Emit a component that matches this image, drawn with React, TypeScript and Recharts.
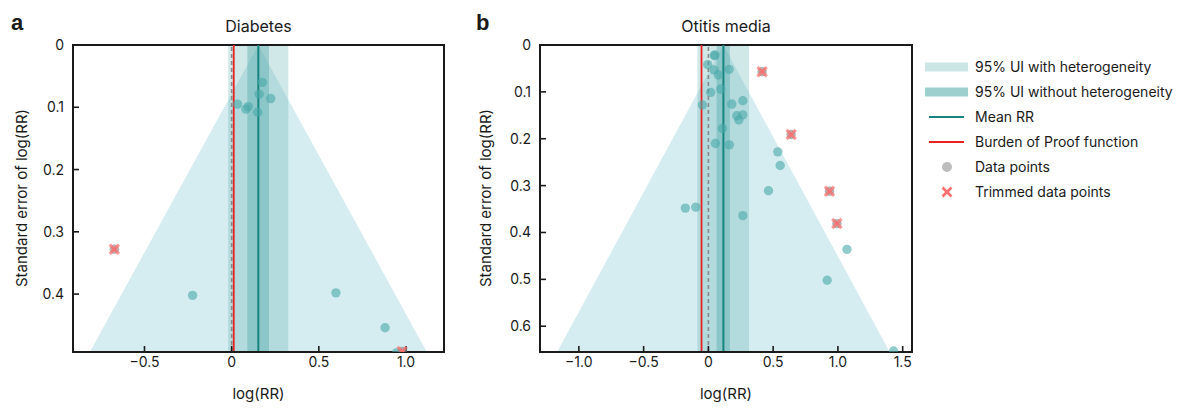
import { Area, ComposedChart, ReferenceArea, ReferenceLine, Scatter, XAxis, YAxis } from 'recharts'

const FONT = 'Inter, "Noto Sans", sans-serif'
const INK = '#1a1a1a'
const TEAL = '#17857f'
const RED = '#e8231f'
const FUNNEL = '#d5edf1'

// a — Diabetes
const diabetesPoints = [
  { x: 0.176, se: 0.06 },
  { x: 0.158, se: 0.079 },
  { x: 0.224, se: 0.086 },
  { x: 0.034, se: 0.095 },
  { x: 0.095, se: 0.099 },
  { x: 0.082, se: 0.103 },
  { x: 0.149, se: 0.108 },
  { x: -0.224, se: 0.402 },
  { x: 0.598, se: 0.398 },
  { x: 0.88, se: 0.454 },
  { x: 0.947, se: 0.494 },
]
const diabetesTrimmed = [
  { x: -0.673, se: 0.328 },
  { x: 0.978, se: 0.492 },
]
const diabetesMean = 0.153
const diabetesBop = 0.012
const diabetesUiHetero = [-0.02, 0.325]
const diabetesUiNoHetero = [0.09, 0.214]
const diabetesXTicks = [-0.5, 0, 0.5, 1.0]
const diabetesYTicks = [0, 0.1, 0.2, 0.3, 0.4]

// b — Otitis media
const otitisPoints = [
  { x: 0.046, se: 0.023 },
  { x: 0.05, se: 0.021 },
  { x: -0.005, se: 0.042 },
  { x: 0.044, se: 0.053 },
  { x: 0.077, se: 0.064 },
  { x: 0.16, se: 0.052 },
  { x: 0.018, se: 0.101 },
  { x: 0.096, se: 0.094 },
  { x: -0.046, se: 0.128 },
  { x: 0.181, se: 0.126 },
  { x: 0.266, se: 0.119 },
  { x: 0.219, se: 0.151 },
  { x: 0.266, se: 0.149 },
  { x: 0.235, se: 0.16 },
  { x: 0.108, se: 0.178 },
  { x: 0.054, se: 0.21 },
  { x: 0.162, se: 0.213 },
  { x: 0.536, se: 0.228 },
  { x: 0.554, se: 0.257 },
  { x: 0.464, se: 0.311 },
  { x: -0.178, se: 0.348 },
  { x: -0.097, se: 0.346 },
  { x: 0.266, se: 0.364 },
  { x: 1.07, se: 0.436 },
  { x: 0.917, se: 0.502 },
  { x: 1.43, se: 0.653 },
]
const otitisTrimmed = [
  { x: 0.415, se: 0.057 },
  { x: 0.639, se: 0.191 },
  { x: 0.935, se: 0.312 },
  { x: 0.992, se: 0.381 },
]
const otitisMean = 0.116
const otitisBop = -0.053
const otitisUiHetero = [-0.085, 0.314]
const otitisUiNoHetero = [0.063, 0.166]
const otitisXTicks = [-1.0, -0.5, 0, 0.5, 1.0, 1.5]
const otitisYTicks = [0, 0.1, 0.2, 0.3, 0.4, 0.5, 0.6]

const legendLabels = [
  '95% UI with heterogeneity',
  '95% UI without heterogeneity',
  'Mean RR',
  'Burden of Proof function',
  'Data points',
  'Trimmed data points',
]

const fmtX = (v: number) => (v === 0 ? '0' : (v < 0 ? '\u2212' : '') + Math.abs(v).toFixed(1))
const fmtY = (v: number) => (v === 0 ? '0' : v.toFixed(1))

function Dot(props: any) {
  const { cx, cy } = props
  if (cx == null || cy == null) return null
  return <circle cx={cx} cy={cy} r={4.7} fill="#4aa9a9" fillOpacity={0.6} />
}

function TrimmedMark(props: any) {
  const { cx, cy } = props
  if (cx == null || cy == null) return null
  const d = 4.6
  return (
    <g>
      <circle cx={cx} cy={cy} r={4.7} fill="#8a8a8a" fillOpacity={0.65} />
      <g stroke="#ff6b6b" strokeOpacity={0.7} strokeWidth={3.2}>
        <line x1={cx - d} y1={cy - d} x2={cx + d} y2={cy + d} />
        <line x1={cx - d} y1={cy + d} x2={cx + d} y2={cy - d} />
      </g>
    </g>
  )
}

type PanelProps = {
  points: { x: number; se: number }[]
  trimmed: { x: number; se: number }[]
  mean: number
  bop: number
  uiHetero: number[]
  uiNoHetero: number[]
  xDomain: [number, number]
  yMax: number
  xTicks: number[]
  yTicks: number[]
  yAxisWidth: number
  right: number
}

function FunnelPanel(p: PanelProps) {
  // funnel = mean ± 1.96 * se
  const funnel = [
    { x: p.mean - 1.96 * p.yMax, se: [p.yMax, p.yMax] },
    { x: p.mean, se: [p.yMax, 0] },
    { x: p.mean + 1.96 * p.yMax, se: [p.yMax, p.yMax] },
  ]
  const tickStyle = { fill: INK, fontSize: 14, fontFamily: FONT }
  return (
    <ComposedChart width={460} height={408} data={funnel} margin={{ top: 45, right: p.right, bottom: 0, left: 0 }}>
      <Area
        type="linear"
        dataKey="se"
        fill={FUNNEL}
        fillOpacity={1}
        stroke="none"
        isAnimationActive={false}
        activeDot={false}
      />
      <ReferenceArea x1={p.uiHetero[0]} x2={p.uiHetero[1]} fill="#68b4b4" fillOpacity={0.3} stroke="none" />
      <ReferenceArea x1={p.uiNoHetero[0]} x2={p.uiNoHetero[1]} fill="#3a9c9c" fillOpacity={0.33} stroke="none" />
      <ReferenceLine x={0} stroke="#8a8a8a" strokeWidth={1.6} strokeDasharray="4 3" />
      <ReferenceLine x={p.bop} stroke={RED} strokeWidth={1.8} />
      <ReferenceLine x={p.mean} stroke={TEAL} strokeWidth={2} />
      <Scatter data={p.points} dataKey="se" shape={<Dot />} isAnimationActive={false} />
      <Scatter data={p.trimmed} dataKey="se" shape={<TrimmedMark />} isAnimationActive={false} />
      <ReferenceArea
        x1={p.xDomain[0]}
        x2={p.xDomain[1]}
        y1={0}
        y2={p.yMax}
        fill="none"
        stroke={INK}
        strokeWidth={2}
      />
      <XAxis
        type="number"
        dataKey="x"
        domain={p.xDomain}
        ticks={p.xTicks}
        allowDataOverflow
        height={56}
        tickSize={-6}
        tickMargin={11}
        tickFormatter={fmtX}
        tick={tickStyle}
        axisLine={{ stroke: INK, strokeWidth: 2 }}
        tickLine={{ stroke: INK, strokeWidth: 1.6 }}
        label={{ value: 'log(RR)', position: 'insideBottom', offset: 9, fill: INK, fontSize: 15, fontFamily: FONT }}
      />
      <YAxis
        type="number"
        dataKey="se"
        reversed
        domain={[0, p.yMax]}
        ticks={p.yTicks}
        allowDataOverflow
        width={p.yAxisWidth}
        tickSize={-6}
        tickMargin={15}
        tickFormatter={fmtY}
        tick={tickStyle}
        axisLine={{ stroke: INK, strokeWidth: 2 }}
        tickLine={{ stroke: INK, strokeWidth: 1.6 }}
      />
    </ComposedChart>
  )
}

function LegendSwatch({ i }: { i: number }) {
  if (i === 0) return <rect x={0} y={2.5} width={43} height={9} fill="#cce5e5" />
  if (i === 1) return <rect x={0} y={2.5} width={43} height={9} fill="#9dcfcf" />
  if (i === 2) return <line x1={4} x2={39} y1={7} y2={7} stroke={TEAL} strokeWidth={2} />
  if (i === 3) return <line x1={4} x2={39} y1={7} y2={7} stroke={RED} strokeWidth={2} />
  if (i === 4) return <circle cx={22} cy={7} r={5} fill="#bdbdbd" />
  return (
    <g stroke="#ff6f6f" strokeWidth={2.6}>
      <line x1={17.5} y1={2.5} x2={26.5} y2={11.5} />
      <line x1={17.5} y1={11.5} x2={26.5} y2={2.5} />
    </g>
  )
}

export default function App() {
  return (
    <div style={{ position: 'fixed', left: 0, top: 0, width: 1184, height: 408, background: '#fff', fontFamily: FONT }}>
      <div style={{ position: 'absolute', left: 0, top: 0 }}>
        <FunnelPanel
          points={diabetesPoints}
          trimmed={diabetesTrimmed}
          mean={diabetesMean}
          bop={diabetesBop}
          uiHetero={diabetesUiHetero}
          uiNoHetero={diabetesUiNoHetero}
          xDomain={[-0.91, 1.218]}
          yMax={0.493}
          xTicks={diabetesXTicks}
          yTicks={diabetesYTicks}
          yAxisWidth={73}
          right={16}
        />
      </div>
      <div style={{ position: 'absolute', left: 460, top: 0 }}>
        <FunnelPanel
          points={otitisPoints}
          trimmed={otitisTrimmed}
          mean={otitisMean}
          bop={otitisBop}
          uiHetero={otitisUiHetero}
          uiNoHetero={otitisUiNoHetero}
          xDomain={[-1.3, 1.572]}
          yMax={0.655}
          xTicks={otitisXTicks}
          yTicks={otitisYTicks}
          yAxisWidth={80}
          right={8}
        />
      </div>
      <svg width={1184} height={408} style={{ position: 'absolute', left: 0, top: 0, pointerEvents: 'none' }}>
        <g fill={INK} fontFamily='"Liberation Sans", Arial, sans-serif' fontWeight={700} fontSize={22}>
          <text x={11} y={30}>a</text>
          <text x={476} y={30}>b</text>
        </g>
        <g fill={INK} fontFamily={FONT} fontSize={16} textAnchor="middle">
          <text x={258.5} y={32}>Diabetes</text>
          <text x={726} y={32}>Otitis media</text>
        </g>
        <g fill={INK} fontFamily={FONT} fontSize={15} textAnchor="middle">
          <text x={21} y={198} transform="rotate(-90 21 198)" dominantBaseline="central">
            Standard error of log(RR)
          </text>
          <text x={485} y={198} transform="rotate(-90 485 198)" dominantBaseline="central">
            Standard error of log(RR)
          </text>
        </g>
      </svg>
      <div style={{ position: 'absolute', left: 925, top: 54 }}>
        {legendLabels.map((label, i) => (
          <div key={label} style={{ display: 'flex', alignItems: 'center', height: 25 }}>
            <svg width={43} height={14} style={{ flex: 'none' }}>
              <LegendSwatch i={i} />
            </svg>
            <span style={{ marginLeft: 7, fontSize: 14, color: INK, whiteSpace: 'nowrap' }}>{label}</span>
          </div>
        ))}
      </div>
    </div>
  )
}
